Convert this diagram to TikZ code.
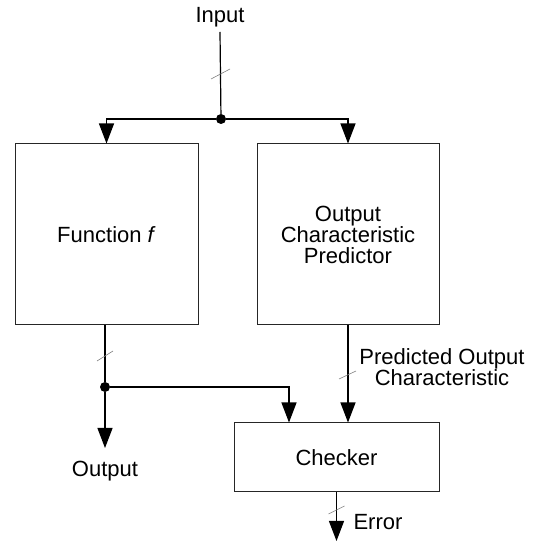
\documentclass[tikz,border=0pt]{standalone}
\usepackage{fontspec}
\setmainfont{Liberation Sans}
\usetikzlibrary{arrows.meta}
\usetikzlibrary{positioning}
\tikzset{
    block/.style={
           rectangle,
           draw=black!85, line width=1pt,
           align=center,
           inner sep=2pt,
           },
    txt/.style={font=\fontsize{22}{20.5}\selectfont, align=center},
    wire/.style={line width=1.2pt},
    flow/.style={line width=1.2pt, -{Triangle[length=20pt,width=15pt]}},
    dot/.style={circle, fill=black, inner sep=0pt, minimum size=10pt},
    slash/.style={draw=gray, line width=0.6pt},
}

\begin{document}
\begin{tikzpicture}[x=1pt,y=1pt,every node/.style={txt}]
 \useasboundingbox (0,0) rectangle (534,544);

 % the two blocks fed by the input
 \node[block, minimum width=183pt, minimum height=181pt] (Function) at (106.5,309.5)
 {Function \textit{f}};
 \node[block, minimum width=182pt, minimum height=181pt] (Predictor) at (348,309.5)
 {Output\\Characteristic\\Predictor};

 % checker below
 \node[block, minimum width=205pt, minimum height=69pt] (Checker) at (336.5,86.5)
 {Checker};

 % texts at the free ends
 \node (Input) at (220,527) {Input};
 \node (Output) at (105,73) {Output};
 \node[anchor=west] (Error) at (350,22) {Error};
 \node (Predicted) at (442,177) {Predicted Output\\Characteristic};

 % branch points
 \coordinate (in top) at (220,512);
 \node[dot] (split) at (221,425) {};
 \node[dot] (tap) at (105,157) {};
 \coordinate (out end) at (105,96);
 \coordinate (err end) at (336.5,3);

 % input fan-out
 \draw[wire] (in top) -- (split);
 \draw[flow] (split) -| (Function.north);
 \draw[flow] (split) -| (Predictor.north);

 % function output to Output and Checker
 \draw[wire] (Function.south -| tap) -- (tap);
 \draw[flow] (tap) -- (out end);
 \draw[flow] (tap) -| ([xshift=-47.5pt]Checker.north);

 % predicted characteristic to Checker
 \draw[flow] (Predictor.south) -- (Predictor.south |- Checker.north);

 % error signal
 \draw[flow] (Checker.south) -- (err end);

 % bus marks
 \draw[slash] (220,470) ++(-9,-5) -- ++(19,10);
 \draw[slash] (105,188) ++(-8,-5) -- ++(16,10);
 \draw[slash] (348,169) ++(-9,-4) -- ++(17,8);
 \draw[slash] (336.5,34) ++(-8,-4) -- ++(16,8);

\end{tikzpicture}
\end{document}
